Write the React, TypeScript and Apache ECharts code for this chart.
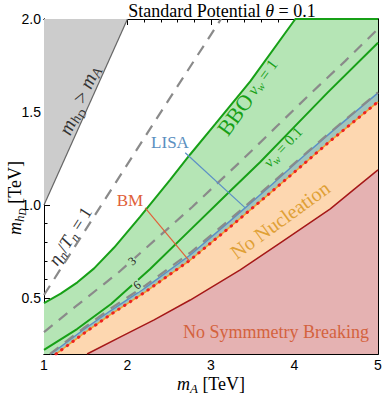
import React, { useEffect, useRef } from 'react';
import * as echarts from 'echarts';

// ---- data (m_A [TeV], m_hD [TeV]) ----
const bboVw1: number[][] = [
  [1.0, 0.474], [1.2, 0.524], [1.4, 0.585], [1.6, 0.66], [1.84, 0.772], [2.15, 0.937],
  [2.51, 1.136], [2.75, 1.272], [3.05, 1.435], [3.47, 1.665], [4.01, 2.0], [5.0, 2.0],
];
const bboVw01: number[][] = [
  [1.0, 0.222], [1.396, 0.334], [1.803, 0.469], [2.271, 0.657], [2.715, 0.851],
  [3.23, 1.076], [3.59, 1.232], [3.986, 1.415], [4.393, 1.603], [5.0, 1.872],
];
const lisaEdge: number[][] = [
  [1.084, 0.2], [1.468, 0.329], [1.791, 0.431], [2.211, 0.555], [2.751, 0.732],
  [3.23, 0.915], [3.71, 1.103], [4.07, 1.248], [4.429, 1.388], [5.0, 1.603],
];
const nucleationEdge: number[][] = [
  [1.144, 0.2], [1.468, 0.308], [1.791, 0.41], [2.211, 0.533], [2.751, 0.705],
  [3.23, 0.883], [3.71, 1.066], [4.07, 1.205], [4.429, 1.345], [5.0, 1.555],
];
const symBreakEdge: number[][] = [
  [1.516, 0.2], [1.911, 0.291], [2.319, 0.383], [2.751, 0.49], [3.35, 0.652],
  [3.83, 0.797], [4.429, 0.98], [4.706, 1.082], [5.0, 1.189],
];
const eta1: number[][] = [[1.0, 0.517], [2.27, 1.41], [3.12, 2.0]];
const eta3: number[][] = [
  [1.0, 0.318], [1.372, 0.453], [1.887, 0.636], [2.331, 0.813], [2.775, 0.99],
  [3.374, 1.243], [3.794, 1.426], [4.189, 1.598], [4.609, 1.775], [5.0, 1.947],
];
const eta6: number[][] = [
  [1.07, 0.2], [1.468, 0.337], [1.791, 0.442], [2.211, 0.567], [2.751, 0.744],
  [3.23, 0.925], [3.71, 1.11], [4.07, 1.253], [4.429, 1.392], [5.0, 1.606],
];
const heavierLine: number[][] = [[1.0, 1.0], [2.0, 2.0]];
const lisaPointer: number[][] = [[2.691, 1.281], [3.41, 0.985]];
const bmPointer: number[][] = [[2.211, 0.985], [2.74, 0.7]];

const xMajor = [1, 2, 3, 4, 5];
const xMinor = [1.2, 1.4, 1.6, 1.8, 2.2, 2.4, 2.6, 2.8, 3.2, 3.4, 3.6, 3.8, 4.2, 4.4, 4.6, 4.8];
const yMajor = [0.5, 1.0, 1.5, 2.0];
const yMinor = [0.3, 0.4, 0.6, 0.7, 0.8, 0.9, 1.1, 1.2, 1.3, 1.4, 1.6, 1.7, 1.8, 1.9];

const SERIF = '"Liberation Serif", "Times New Roman", serif';
const SANS = '"Liberation Sans", Arial, sans-serif';

const C = {
  green: '#17a017',
  greenFill: '#b5e5b5',
  teal: '#9fc5bc',
  blue: '#5b8fc6',
  peach: '#fdd7b0',
  orange: '#f4a030',
  red: '#ee2222',
  pink: '#e5b2b2',
  darkRed: '#a51818',
  dash: '#8a8a8a',
};

function rich(size: number, color: string, lhf: number) {
  const lh = Math.round(size * lhf);
  return {
    r: { fontFamily: SERIF, fontSize: size, color, lineHeight: lh },
    i: { fontFamily: SERIF, fontSize: size, color, fontStyle: 'italic', lineHeight: lh },
    b: { fontFamily: SERIF, fontSize: Math.round(size * 1.4), color, lineHeight: lh },
    s: {
      fontFamily: SERIF, fontSize: Math.round(size * 0.7), color, fontStyle: 'italic',
      lineHeight: Math.round(size * 0.7), padding: [Math.round(size * 0.5), 0, 0, 0],
    },
    ss: {
      fontFamily: SERIF, fontSize: Math.round(size * 0.55), color, fontStyle: 'italic',
      lineHeight: Math.round(size * 0.55), padding: [Math.round(size * 0.85), 0, 0, 0],
    },
  };
}

function label(text: string, x: number, y: number, deg: number, size: number, color: string, bg?: string, lhf = 1.6) {
  return {
    type: 'text', x, y, rotation: (deg * Math.PI) / 180, z: 100,
    style: {
      text, rich: rich(size, color, lhf), align: 'center', verticalAlign: 'middle',
      fontFamily: SERIF, fontSize: size, fill: color,
      backgroundColor: bg, padding: bg ? [0, 1] : 0,
    },
  };
}

function xAx(position: string, values: number[], len: number, labels: boolean) {
  return {
    type: 'value', min: 1, max: 5, position,
    axisLine: { show: true, onZero: false, lineStyle: { color: '#000', width: 1 } },
    axisTick: { show: true, inside: true, length: len, customValues: values, lineStyle: { color: '#000', width: 1 } },
    axisLabel: labels
      ? { show: true, customValues: values, margin: 4, fontSize: 14, lineHeight: 14, fontFamily: SANS, color: '#000', formatter: (v: number) => String(v) }
      : { show: false },
    splitLine: { show: false },
  };
}
function yAx(position: string, values: number[], len: number, labels: boolean) {
  return {
    type: 'value', min: 0.2, max: 2.0, position,
    axisLine: { show: true, onZero: false, lineStyle: { color: '#000', width: 1 } },
    axisTick: { show: true, inside: true, length: len, customValues: values, lineStyle: { color: '#000', width: 1 } },
    axisLabel: labels
      ? { show: true, customValues: values, margin: 3, fontSize: 14, fontFamily: SANS, color: '#000', formatter: (v: number) => v.toFixed(1) }
      : { show: false },
    splitLine: { show: false },
  };
}

function areaSeries(data: number[][], color: string, width: number, fill: string, origin = 'start') {
  return {
    type: 'line', data, symbol: 'none', silent: true, clip: true,
    lineStyle: { color, width },
    areaStyle: { color: fill, opacity: 1, origin },
  };
}
function lineSeries(data: number[][], lineStyle: any) {
  return { type: 'line', data, symbol: 'none', silent: true, clip: true, lineStyle };
}

export default function App() {
  const ref = useRef<HTMLDivElement>(null);
  useEffect(() => {
    if (!ref.current) return;
    const chart = echarts.init(ref.current, null, { renderer: 'svg' });
    const dashed = { color: C.dash, width: 2.2, type: [11, 8] };
    chart.setOption({
      animation: false,
      backgroundColor: '#fff',
      grid: { left: 44, right: 5, top: 19, bottom: 41, containLabel: false, outerBoundsMode: 'none' },
      xAxis: [
        xAx('bottom', xMajor, 6, true),
        xAx('bottom', xMinor, 3.5, false),
        xAx('top', xMajor, 6, false),
        xAx('top', xMinor, 3.5, false),
      ],
      yAxis: [
        yAx('left', yMajor, 6, true),
        yAx('left', yMinor, 3.5, false),
        yAx('right', yMajor, 6, false),
        yAx('right', yMinor, 3.5, false),
      ],
      series: [
        areaSeries(bboVw1, C.green, 2, C.greenFill),
        areaSeries(lisaEdge, C.blue, 1.5, C.teal),
        areaSeries(nucleationEdge, C.orange, 1.5, C.peach),
        areaSeries(symBreakEdge, C.darkRed, 1.5, C.pink),
        areaSeries(heavierLine, '#666', 1.2, '#cccccc', 'end'),
        lineSeries(bboVw01, { color: C.green, width: 2 }),
        lineSeries(eta1, dashed),
        lineSeries(eta3, dashed),
        lineSeries(eta6, dashed),
        lineSeries(nucleationEdge, { color: C.red, width: 3, type: [0.5, 6.5], cap: 'round' }),
        lineSeries(lisaPointer, { color: C.blue, width: 1.2 }),
        lineSeries(bmPointer, { color: '#e0603a', width: 1.2 }),
      ],
      graphic: [
        label('{r|Standard Potential }{i|θ}{r| = 0.1}', 222, 11, 0, 18, '#000', undefined, 1.2),
        label('{i|m}{s|A}{r| [TeV]}', 211, 384, 0, 18, '#000', undefined, 1.1),
        label('{i|m}{s|h}{ss|D}{r| [TeV]}', 15, 198, 90, 18, '#000', undefined, 1.2),
        label('{i|m}{s|h}{ss|D}{r| > }{i|m}{s|A}', 79, 100, 65.7, 20, '#333'),
        label('{i|η}{s|n}{r|/}{i|T}{s|n}{r| = 1}', 70, 236, 57.5, 18, '#333'),
        label('{b|BBO} {i|v}{s|w}{r| = 1}', 248, 97, 54, 16, C.green),
        label('{i|v}{s|w}{r| = 0.1}', 283, 147, 47, 15, C.green),
        label('{r|LISA}', 170, 142, 0, 17, '#5b8fbf', undefined, 1.2),
        label('{r|BM}', 130, 200, 0, 17, '#e0603a', undefined, 1.2),
        label('{r|No Nucleation}', 280, 220, 36, 20, '#e0a035', undefined, 1.2),
        label('{r|No Symmmetry Breaking}', 276, 332, 0, 18, '#d4623e', undefined, 1.2),
        label('{r|3}', 132, 261, 42, 12, '#222', C.greenFill, 1.1),
        label('{r|6}', 137, 285, 37, 12, '#222', C.greenFill, 1.1),
      ],
    });
    return () => chart.dispose();
  }, []);
  return (
    <div
      ref={ref}
      style={{ position: 'absolute', left: 0, top: 0, width: 383, height: 395, background: '#fff' }}
    />
  );
}
